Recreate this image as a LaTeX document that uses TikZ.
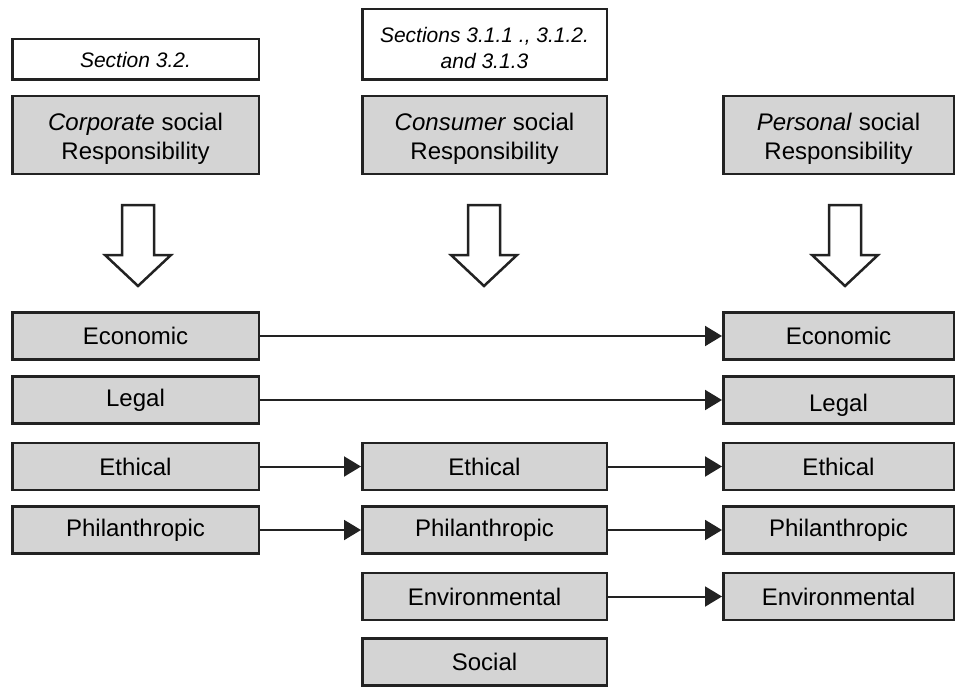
\documentclass[tikz,border=0pt]{standalone}
\usepackage{fontspec}
\setmainfont{Liberation Sans}
\usetikzlibrary{arrows.meta}
\definecolor{boxgray}{HTML}{D4D4D4}
\definecolor{ink}{HTML}{222222}
\tikzset{
  base/.style={draw=ink, line width=2.5pt, inner sep=0pt, align=center, text=black},
  graybox/.style={base, fill=boxgray, font=\fontsize{24}{29}\selectfont},
  refbox/.style={base, fill=white, font=\fontsize{21}{26}\selectfont\itshape},
  graytext/.style={inner sep=0pt, align=center, font=\fontsize{24}{29}\selectfont},
  reftext/.style={inner sep=0pt, align=center, font=\fontsize{21}{26}\selectfont\itshape},
  conn/.style={draw=ink, line width=2pt, -{Triangle[length=17pt,width=20pt]}},
  blockarrow/.style={draw=ink, line width=2.5pt, fill=white, line join=miter}
}
\begin{document}
\begin{tikzpicture}[x=1pt,y=-1pt]
\useasboundingbox (0,0) rectangle (957,687);
% reference boxes
\node[refbox, minimum width=246.5pt, minimum height=40.5pt] (secL) at (135.5,59.5) {Section 3.2.};
\node[refbox, minimum width=244.5pt, minimum height=70.5pt] (secM) at (484.5,44.5) {};
\node[reftext] (secMt) at ([yshift=-4pt]secM.center) {Sections 3.1.1 ., 3.1.2.\\and 3.1.3};
% heading boxes
\node[graybox, minimum width=246.5pt, minimum height=77.5pt] (corp) at (135.5,135) {};
\node[graybox, minimum width=244.5pt, minimum height=77.5pt] (cons) at (484.5,135) {};
\node[graybox, minimum width=230.5pt, minimum height=77.5pt] (pers) at (838.5,135) {};
\node[graytext] (corpt) at ([yshift=-4pt]corp.center) {\textit{Corporate} social\\Responsibility};
\node[graytext] (const) at ([yshift=-4pt]cons.center) {\textit{Consumer} social\\Responsibility};
\node[graytext] (perst) at ([yshift=-4pt]pers.center) {\textit{Personal} social\\Responsibility};
% block arrows
\foreach \cx in {138,484,845}{
  \draw[blockarrow] (\cx-16,205) -- (\cx+16,205) -- (\cx+16,255) -- (\cx+33,255) -- (\cx,286) -- (\cx-33,255) -- (\cx-16,255) -- cycle;
}
% left column
\node[graybox, minimum width=246.5pt, minimum height=47pt] (L1) at (135.5,336) {Economic};
\node[graybox, minimum width=246.5pt, minimum height=47pt] (L2) at (135.5,400) {Legal};
\node[graybox, minimum width=246.5pt, minimum height=47pt] (L3) at (135.5,466.5) {Ethical};
\node[graybox, minimum width=246.5pt, minimum height=47pt] (L4) at (135.5,530) {Philanthropic};
% middle column
\node[graybox, minimum width=244.5pt, minimum height=47pt] (M3) at (484.5,466.5) {Ethical};
\node[graybox, minimum width=244.5pt, minimum height=47pt] (M4) at (484.5,530) {Philanthropic};
\node[graybox, minimum width=244.5pt, minimum height=47pt] (M5) at (484.5,596.5) {Environmental};
\node[graybox, minimum width=244.5pt, minimum height=47pt] (M6) at (484.5,662) {Social};
% right column
\node[graybox, minimum width=230.5pt, minimum height=47pt] (R1) at (838.5,336) {Economic};
\node[graybox, minimum width=230.5pt, minimum height=47pt] (R2) at (838.5,400) {};
\node[graytext] (R2t) at ([yshift=-5pt]R2.center) {Legal};
\node[graybox, minimum width=230.5pt, minimum height=47pt] (R3) at (838.5,466.5) {Ethical};
\node[graybox, minimum width=230.5pt, minimum height=47pt] (R4) at (838.5,530) {Philanthropic};
\node[graybox, minimum width=230.5pt, minimum height=47pt] (R5) at (838.5,596.5) {Environmental};
% connectors
\draw[conn] (L1.east) -- (R1.west);
\draw[conn] (L2.east) -- (R2.west);
\draw[conn] (L3.east) -- (M3.west);
\draw[conn] (L4.east) -- (M4.west);
\draw[conn] (M3.east) -- (R3.west);
\draw[conn] (M4.east) -- (R4.west);
\draw[conn] (M5.east) -- (R5.west);
\end{tikzpicture}
\end{document}
